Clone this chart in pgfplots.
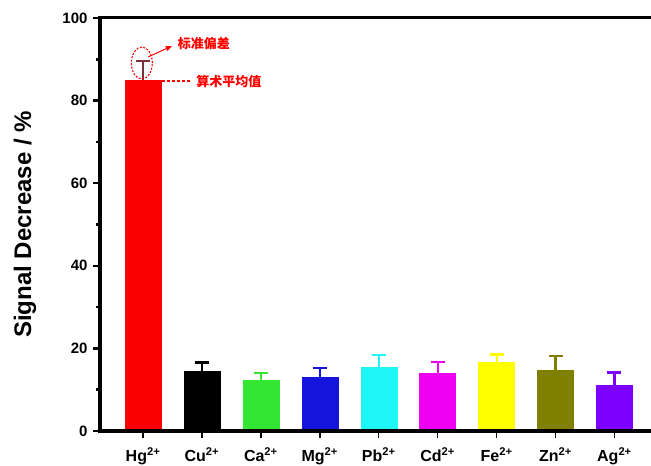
\documentclass[border=0pt]{standalone}
\usepackage{pgfplots}
\pgfplotsset{compat=1.18}
\usepackage{fontspec}
\setmainfont{Liberation Sans}
\newfontfamily\cjk{Noto Sans CJK SC}
\usetikzlibrary{arrows.meta}

\definecolor{hg}{RGB}{250,0,0}
\definecolor{hgerr}{RGB}{120,50,60}
\definecolor{cu}{RGB}{0,0,0}
\definecolor{ca}{RGB}{50,230,50}
\definecolor{mg}{RGB}{20,20,220}
\definecolor{pb}{RGB}{30,245,245}
\definecolor{cd}{RGB}{240,0,240}
\definecolor{fe}{RGB}{255,255,0}
\definecolor{zn}{RGB}{128,128,0}
\definecolor{ag}{RGB}{125,0,255}

% one bar with a one-sided error bar in its own colour
\pgfplotsset{
  ionbar/.style 2 args={
    fill=#1, draw=#1,
    error bars/.cd, y dir=plus, y explicit,
    error bar style={line width=2.2pt, color=#2},
    error mark options={rotate=90, line width=2.5pt, mark size=7pt, color=#2},
  },
}

\begin{document}
\begin{tikzpicture}[x=1pt,y=1pt]
\begin{axis}[
  at={(0,0)}, anchor=south west,
  scale only axis, width=551pt, height=413pt,
  xmin=-0.73, xmax=8.62, ymin=0, ymax=100,
  axis x line*=bottom, axis y line*=left,
  axis line style={line width=3.5pt, -},
  xtick={0,...,8},
  xticklabels={Hg\textsuperscript{2+},Cu\textsuperscript{2+},Ca\textsuperscript{2+},Mg\textsuperscript{2+},Pb\textsuperscript{2+},Cd\textsuperscript{2+},Fe\textsuperscript{2+},Zn\textsuperscript{2+},Ag\textsuperscript{2+}},
  ytick={0,20,...,100}, minor ytick={10,30,...,90},
  tick align=outside,
  major tick length=7pt, minor tick length=4pt,
  every tick/.style={black, line width=2.5pt},
  x tick style={line width=1.5pt},
  tick label style={font=\bfseries\fontsize{15}{15}\selectfont},
  yticklabel style={xshift=-2pt},
  xticklabel style={font=\bfseries\fontsize{16}{16}\selectfont, yshift=-6pt},
  /pgf/number format/assume math mode=true,
  ylabel={Signal Decrease / \%},
  every axis y label/.style={at={(axis description cs:-0.136,0.5)}, rotate=90, anchor=center,
    font=\bfseries\fontsize{24}{24}\selectfont},
  ybar, bar width=36pt, bar shift=0pt,
  clip=false,
]
\addplot[ionbar={hg}{hgerr}] coordinates {(0,85.0) +- (0,4.6)};
\addplot[ionbar={cu}{cu}] coordinates {(1,14.4) +- (0,2.2)};
\addplot[ionbar={ca}{ca}] coordinates {(2,12.2) +- (0,1.8)};
\addplot[ionbar={mg}{mg}] coordinates {(3,13.1) +- (0,2.1)};
\addplot[ionbar={pb}{pb}] coordinates {(4,15.4) +- (0,3.0)};
\addplot[ionbar={cd}{cd}] coordinates {(5,14.0) +- (0,2.7)};
\addplot[ionbar={fe}{fe}] coordinates {(6,16.6) +- (0,1.9)};
\addplot[ionbar={zn}{zn}] coordinates {(7,14.8) +- (0,3.4)};
\addplot[ionbar={ag}{ag}] coordinates {(8,11.2) +- (0,3.0)};

% frame: left, bottom and top lines
\draw[line width=4pt, line cap=rect] (rel axis cs:0,1) -- (rel axis cs:0,0) -- (rel axis cs:1,0);
\draw[line width=3pt] (rel axis cs:0,1) -- (rel axis cs:1,1);

% annotations on the Hg bar
\draw[red, dash pattern=on 2pt off 1.5pt, line width=1.1pt] (axis cs:-0.02,89.1) ellipse [x radius=10.5pt, y radius=16pt];
\draw[red, line width=1pt, -{Triangle[length=6pt,width=5pt]}] (axis cs:0.09,90.6) -- (axis cs:0.49,93.2);
\node[anchor=west, inner sep=0pt, red, font=\cjk\bfseries\fontsize{13}{13}\selectfont] at (axis cs:0.59,93.7) {标准偏差};
\draw[red, dash pattern=on 3pt off 2pt, line width=1.6pt] (axis cs:0.32,84.7) -- (axis cs:0.80,84.7);
\node[anchor=west, inner sep=0pt, red, font=\cjk\bfseries\fontsize{13}{13}\selectfont] at (axis cs:0.90,84.7) {算术平均值};
\end{axis}
\pgfresetboundingbox
\path (-100pt,-35pt) rectangle (551pt,431pt);
\end{tikzpicture}
\end{document}
